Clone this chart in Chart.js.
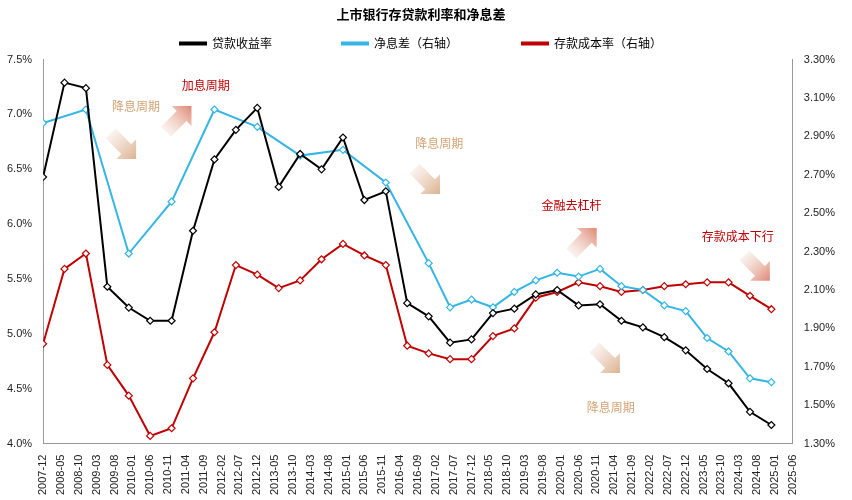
<!DOCTYPE html>
<html><head><meta charset="utf-8">
<script src="https://cdn.jsdelivr.net/npm/chart.js@4"></script>
<style>body{margin:0;background:#fff}#w{width:852px;height:500px}</style>
</head><body><div id="w"><canvas id="c"></canvas></div>
<script>
// month index 0 = 2007-12; points every 6 months
const months = Array.from({length:35},(_, i)=>i*6);
const loanYield = [6.43,7.29,7.24,5.43,5.24,5.12,5.12,5.94,6.59,6.86,7.06,6.34,6.64,6.50,6.79,6.22,6.30,5.28,5.16,4.92,4.95,5.19,5.23,5.36,5.40,5.26,5.27,5.12,5.06,4.97,4.85,4.68,4.55,4.29,4.17];
const nim = [2.97,null,3.04,null,2.29,null,2.56,null,3.04,null,2.95,null,2.80,null,2.83,null,2.66,null,2.24,2.01,2.05,2.01,2.09,2.15,2.19,2.17,2.21,2.12,2.10,2.02,1.99,1.85,1.78,1.64,1.62];
const depositCost = [1.82,2.21,2.29,1.71,1.55,1.34,1.38,1.64,1.88,2.23,2.18,2.11,2.15,2.26,2.34,2.28,2.23,1.81,1.77,1.74,1.74,1.86,1.90,2.06,2.09,2.14,2.12,2.09,2.10,2.12,2.13,2.14,2.14,2.07,2.00];
const tickMonths = Array.from({length:43},(_, i)=>i*5);
function monthLabel(m){const t=2007*12+11+m;const y=Math.floor(t/12),mo=t%12+1;return y+'-'+String(mo).padStart(2,'0');}
const notes = [
 {text:'降息周期',m:26,v:7.07,color:'#d4a373',ax:22.5,av:6.71,dir:'down'},
 {text:'加息周期',m:45.6,v:7.26,color:'#c00000',ax:38,av:6.96,dir:'up'},
 {text:'降息周期',m:111,v:6.74,color:'#d4a373',ax:107.6,av:6.39,dir:'down'},
 {text:'金融去杠杆',m:148,v:6.17,color:'#c00000',ax:151.5,av:5.85,dir:'up'},
 {text:'存款成本下行',m:194.6,v:5.89,color:'#c00000',ax:200,av:5.6,dir:'down'},
 {text:'降息周期',m:159,v:4.33,color:'#d4a373',ax:158,av:4.76,dir:'down'}
];
const ds=(label,data,color,axis)=>({label,data:months.map((m,i)=>({x:m,y:data[i]})),borderColor:color,backgroundColor:color,borderWidth:2,pointStyle:'rectRot',pointRadius:3.5,pointBackgroundColor:'#fff',pointBorderColor:color,pointBorderWidth:1.2,yAxisID:axis,spanGaps:true,tension:0});
const notePlugin={id:'notes',afterDatasetsDraw(ch){const c=ch.ctx,x=ch.scales.x,y=ch.scales.y;c.save();
 notes.forEach(n=>{const ax=x.getPixelForValue(n.ax),ay=y.getPixelForValue(n.av);
  c.save();c.translate(ax,ay);c.rotate(n.dir==='down'?Math.PI/4:-Math.PI/4);
  const g=c.createLinearGradient(-18,0,18,0);g.addColorStop(0,'rgba(230,190,170,0.2)');g.addColorStop(1,n.color==='#c00000'?'rgba(220,120,100,0.9)':'rgba(215,170,130,0.9)');
  c.fillStyle=g;c.beginPath();c.moveTo(-18,-7);c.lineTo(4,-7);c.lineTo(4,-14);c.lineTo(18,0);c.lineTo(4,14);c.lineTo(4,7);c.lineTo(-18,7);c.closePath();c.fill();c.restore();
  c.fillStyle=n.color;c.font='12px "Noto Sans CJK SC"';c.textAlign='center';c.textBaseline='middle';
  c.fillText(n.text,x.getPixelForValue(n.m),y.getPixelForValue(n.v));});
 c.restore();}};
new Chart(document.getElementById('c'),{type:'line',
 data:{datasets:[ds('贷款收益率',loanYield,'#000000','y'),ds('净息差（右轴）',nim,'#33b5e5','y1'),ds('存款成本率（右轴）',depositCost,'#c00000','y1')]},
 options:{responsive:true,maintainAspectRatio:false,animation:false,
  layout:{padding:{left:4,right:14,top:0,bottom:2}},
  plugins:{title:{display:true,text:'上市银行存贷款利率和净息差',font:{size:13,weight:'bold',family:'"Noto Sans CJK SC"'},color:'#000',padding:{top:6,bottom:6}},
   legend:{labels:{boxWidth:26,boxHeight:2,font:{size:12,family:'"Noto Sans CJK SC"'},color:'#000',padding:10,
    generateLabels(ch){return Chart.defaults.plugins.legend.labels.generateLabels(ch).map((l,i)=>{if(i<2)l.text=l.text+'\u3000\u3000\u3000\u3000\u3000';return l;});}}},tooltip:{enabled:false}},
  scales:{
   x:{type:'linear',min:0,max:210,grid:{display:false},border:{color:'#999'},
    afterBuildTicks(s){s.ticks=tickMonths.map(v=>({value:v}));},
    ticks:{autoSkip:false,maxRotation:90,minRotation:90,callback:v=>monthLabel(v),font:{size:11,family:'Liberation Sans'},color:'#222'}},
   y:{min:4,max:7.5,grid:{display:false},border:{color:'#999'},ticks:{stepSize:0.5,callback:v=>v.toFixed(1)+'%',font:{size:11,family:'Liberation Sans'},color:'#222'}},
   y1:{position:'right',min:1.3,max:3.3,grid:{display:false},border:{color:'#999'},ticks:{stepSize:0.2,callback:v=>v.toFixed(2)+'%',font:{size:11,family:'Liberation Sans'},color:'#222'}}
  }},plugins:[notePlugin]});
</script></body></html>
